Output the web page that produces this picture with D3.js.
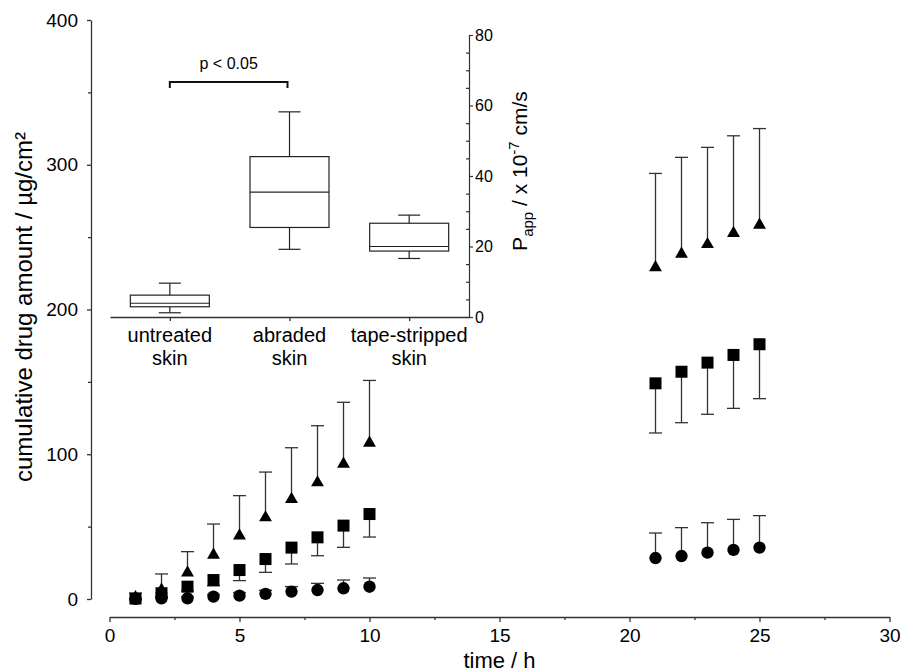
<!DOCTYPE html>
<html>
<head>
<meta charset="utf-8">
<script src="https://cdn.jsdelivr.net/npm/d3@7"></script>
<style>
  body { margin: 0; background: #fff; }
  svg { display: block; font-family: "Liberation Sans", Arial, Helvetica, sans-serif; }
</style>
</head>
<body>
<svg id="chart" width="902" height="672"></svg>
<script>
// ---------- data ----------
const times = [1, 2, 3, 4, 5, 6, 7, 8, 9, 10, 21, 22, 23, 24, 25];
// abraded skin (triangles), mean and upper SD
const abradedMean = [1, 6.2, 18.2, 30.4, 43.7, 56.2, 68.9, 80.4, 93.3, 107.8, 229, 238.3, 245, 252.7, 258.4];
const abradedSD   = [3, 11.1, 14.5, 21.4, 27.7, 31.5, 35.6, 39.3, 42.6, 43.2, 65, 66.8, 67, 67.3, 66.6];
// tape-stripped skin (squares), mean and lower SD
const tapeMean = [0.3, 4, 8.5, 13.1, 20, 27.6, 35.5, 42.6, 50.7, 58.7, 149, 157, 163.3, 168.6, 176];
const tapeSD   = [0.3, 2, 3, 4, 7.3, 9.2, 11.3, 12.7, 15, 15.9, 34.3, 35.2, 35.7, 36.9, 37.6];
// untreated skin (circles), mean and upper SD
const untreatedMean = [0.1, 0.5, 0.5, 1.6, 2.3, 3.5, 5.1, 6.2, 7.4, 8.5, 28.3, 29.7, 32, 33.9, 35.5];
const untreatedSD   = [0.3, 0.5, 1, 1.5, 2, 2.5, 3.5, 4.6, 5.7, 6, 17.3, 19.6, 20.7, 21.1, 22.1];

// inset box plot (Papp x 10^-7 cm/s)
const boxCategories = ["untreated skin", "abraded skin", "tape-stripped skin"];
const boxWhiskerLow  = [1.2, 19.2, 16.6];
const boxQ1          = [2.9, 25.4, 18.7];
const boxMedian      = [3.9, 35.4, 20.0];
const boxQ3          = [6.2, 45.5, 26.6];
const boxWhiskerHigh = [9.6, 58.2, 28.9];

const xTicks = [0, 5, 10, 15, 20, 25, 30];
const xMinorTicks = [2.5, 7.5, 12.5, 17.5, 22.5, 27.5];
const yTicks = [0, 100, 200, 300, 400];
const yMinorTicks = [50, 150, 250, 350];
const insetTicks = [0, 20, 40, 60, 80];
const insetMinorTicks = [5, 10, 15, 25, 30, 35, 45, 50, 55, 65, 70, 75];

// ---------- drawing ----------
const svg = d3.select("#chart");
const axisColor = "#333";

const x = d3.scaleLinear().domain([0, 30]).range([109.5, 889.5]);
const y = d3.scaleLinear().domain([0, 400]).range([599, 20]);

// main x axis (offset below)
const gx = svg.append("g").attr("transform", "translate(0,617)").style("color", axisColor);
gx.call(d3.axisBottom(x).tickValues(xTicks).tickSize(5).tickSizeOuter(0).tickPadding(7));
gx.append("g").call(d3.axisBottom(x).tickValues(xMinorTicks).tickSize(3).tickSizeOuter(0).tickFormat(""))
  .select(".domain").remove();
gx.selectAll("text").attr("font-size", 19).attr("fill", "#000").attr("font-family", "Liberation Sans, Arial, sans-serif");
gx.selectAll("path, line").attr("stroke-width", 1.3);

// main y axis (offset left)
const gy = svg.append("g").attr("transform", "translate(91,0)").style("color", axisColor);
gy.call(d3.axisLeft(y).tickValues(yTicks).tickSize(4).tickSizeOuter(0).tickPadding(9));
gy.append("g").call(d3.axisLeft(y).tickValues(yMinorTicks).tickSize(3).tickSizeOuter(0).tickFormat(""))
  .select(".domain").remove();
gy.selectAll("text").attr("font-size", 19).attr("fill", "#000").attr("font-family", "Liberation Sans, Arial, sans-serif");
gy.selectAll("path, line").attr("stroke-width", 1.3);

// axis titles
svg.append("text").attr("x", x(15)).attr("y", 667.5).attr("text-anchor", "middle")
  .attr("font-size", 22).text("time / h");
svg.append("text").attr("transform", "translate(32,307) rotate(-90)").attr("text-anchor", "middle")
  .attr("font-size", 24).text("cumulative drug amount / µg/cm²");

// ---------- series ----------
const series = [
  { mean: abradedMean, sd: abradedSD, dir: 1, symbol: d3.symbolTriangle, size: 72 },
  { mean: tapeMean, sd: tapeSD, dir: -1, symbol: d3.symbolSquare, size: 144 },
  { mean: untreatedMean, sd: untreatedSD, dir: 1, symbol: d3.symbolCircle, size: 120 }
];

const errG = svg.append("g").attr("stroke", "#333").attr("stroke-width", 1.3);
series.forEach(s => {
  times.forEach((t, i) => {
    const y0 = y(s.mean[i]);
    const y1 = y(s.mean[i] + s.dir * s.sd[i]);
    errG.append("line").attr("x1", x(t)).attr("x2", x(t)).attr("y1", y0).attr("y2", y1);
    errG.append("line").attr("x1", x(t) - 6.5).attr("x2", x(t) + 6.5).attr("y1", y1).attr("y2", y1);
  });
});
const markG = svg.append("g").attr("fill", "#000");
series.forEach(s => {
  markG.selectAll(null).data(times).enter().append("path")
    .attr("d", d3.symbol().type(s.symbol).size(s.size))
    .attr("transform", (t, i) => `translate(${x(t)},${y(s.mean[i])})`);
});

// ---------- inset box plot ----------
const bx = d3.scalePoint().domain(boxCategories).range([110, 469]).padding(0.5);
const by = d3.scaleLinear().domain([0, 80]).range([317, 35]);
const boxW = 79;

// inset x axis
const ibx = svg.append("g").attr("transform", "translate(0,317)").style("color", axisColor);
ibx.call(d3.axisBottom(bx).tickSize(4).tickSizeOuter(0).tickFormat(""));
ibx.selectAll("path, line").attr("stroke-width", 1.3);
boxCategories.forEach(c => {
  const parts = c.split(" ");
  const last = parts.pop();
  svg.append("text").attr("x", bx(c)).attr("y", 342).attr("text-anchor", "middle")
    .attr("font-size", 20).text(parts.join(" "));
  svg.append("text").attr("x", bx(c)).attr("y", 365).attr("text-anchor", "middle")
    .attr("font-size", 20).text(last);
});

// inset right axis
const iby = svg.append("g").attr("transform", "translate(469,0)").style("color", axisColor);
iby.call(d3.axisRight(by).tickValues(insetTicks).tickSize(4).tickSizeOuter(0).tickPadding(2));
iby.append("g").call(d3.axisLeft(by).tickValues(insetMinorTicks).tickSize(3).tickSizeOuter(0).tickFormat(""))
  .select(".domain").remove();
iby.selectAll("text").attr("font-size", 16).attr("fill", "#000").attr("font-family", "Liberation Sans, Arial, sans-serif");
iby.selectAll("path, line").attr("stroke-width", 1.2);

const pLabel = svg.append("text").attr("transform", "translate(527,171) rotate(-90)")
  .attr("text-anchor", "middle").attr("font-size", 21);
pLabel.append("tspan").text("P");
pLabel.append("tspan").attr("font-size", 15).attr("dy", 6).text("app");
pLabel.append("tspan").attr("dy", -6).text(" / x 10");
pLabel.append("tspan").attr("font-size", 15).attr("dy", -8).text("-7");
pLabel.append("tspan").attr("dy", 8).text(" cm/s");

// boxes
const boxG = svg.append("g").attr("stroke", "#222").attr("stroke-width", 1.2).attr("fill", "none");
boxCategories.forEach((c, i) => {
  const cx = bx(c);
  boxG.append("rect").attr("x", cx - boxW / 2).attr("width", boxW)
    .attr("y", by(boxQ3[i])).attr("height", by(boxQ1[i]) - by(boxQ3[i]));
  boxG.append("line").attr("x1", cx - boxW / 2).attr("x2", cx + boxW / 2)
    .attr("y1", by(boxMedian[i])).attr("y2", by(boxMedian[i]));
  boxG.append("line").attr("x1", cx).attr("x2", cx).attr("y1", by(boxQ3[i])).attr("y2", by(boxWhiskerHigh[i]));
  boxG.append("line").attr("x1", cx).attr("x2", cx).attr("y1", by(boxQ1[i])).attr("y2", by(boxWhiskerLow[i]));
  boxG.append("line").attr("x1", cx - 11).attr("x2", cx + 11).attr("y1", by(boxWhiskerHigh[i])).attr("y2", by(boxWhiskerHigh[i]));
  boxG.append("line").attr("x1", cx - 11).attr("x2", cx + 11).attr("y1", by(boxWhiskerLow[i])).attr("y2", by(boxWhiskerLow[i]));
});

// significance bracket
const b1 = bx(boxCategories[0]), b2 = bx(boxCategories[1]) - 2;
svg.append("path").attr("fill", "none").attr("stroke", "#111").attr("stroke-width", 2)
  .attr("d", `M${b1},88V82H${b2}V88`);
svg.append("text").attr("x", (b1 + b2) / 2).attr("y", 69).attr("text-anchor", "middle")
  .attr("font-size", 16).text("p < 0.05");
</script>
</body>
</html>
